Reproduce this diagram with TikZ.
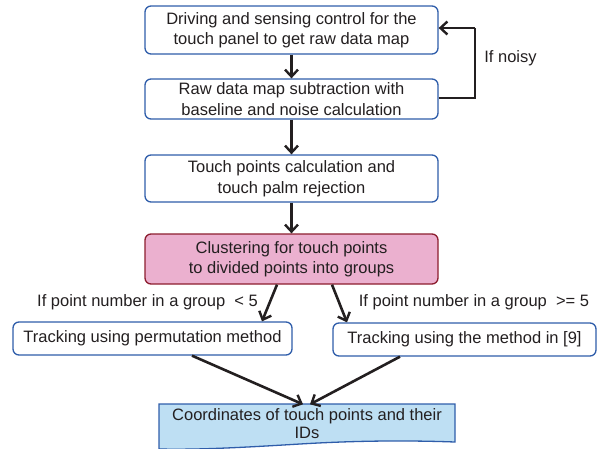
\documentclass[tikz,border=0pt]{standalone}
\usepackage{fontspec}
\setmainfont{Liberation Sans}
\usetikzlibrary{arrows.meta,calc}
\definecolor{boxblue}{HTML}{2F5DAA}
\definecolor{pinkfill}{HTML}{EBB0CF}
\definecolor{pinkdraw}{HTML}{8C1D2E}
\definecolor{docfill}{HTML}{BEDFF3}
\definecolor{txt}{HTML}{231F20}
\tikzset{
  flowbox/.style={draw=boxblue, line width=1.3pt, rounded corners=6pt, fill=white,
    align=center, inner sep=0pt, font=\fontsize{16.5}{20.5}\selectfont, text=txt},
  pinkbox/.style={flowbox, draw=pinkdraw, fill=pinkfill},
  conn/.style={line width=2.6pt, draw=txt, -{Straight Barb[length=7pt,width=13pt,line width=2.4pt]}},
  lbl/.style={font=\fontsize{16.5}{20}\selectfont, text=txt, inner sep=0pt},
}
\begin{document}
\begin{tikzpicture}[x=1pt,y=-1pt]
\useasboundingbox (0,0) rectangle (600,448);
\node[flowbox, minimum width=293pt, minimum height=48pt] (b1) at (291.5,30)
  {Driving and sensing control for the\\touch panel to get raw data map};
\node[flowbox, minimum width=293pt, minimum height=40pt] (b2) at (291.5,99)
  {Raw data map subtraction with\\baseline and noise calculation};
\node[flowbox, minimum width=293pt, minimum height=47pt] (b3) at (291.5,178.5)
  {Touch points calculation and\\touch palm rejection};
\node[pinkbox, minimum width=293pt, minimum height=50pt] (b4) at (291.5,259)
  {Clustering for touch points\\to divided points into groups};
\node[flowbox, minimum width=279pt, minimum height=33pt] (b5) at (152.5,338.5)
  {Tracking using permutation method};
\node[flowbox, minimum width=263pt, minimum height=33pt] (b6) at (464.5,339.5)
  {Tracking using the method in [9]};
% document shape
\begin{scope}
\clip (0,0) rectangle (600,448);
\path[fill=docfill, draw=boxblue, line width=1.3pt]
  (159,404) -- (455,404) -- (455,442)
  .. controls (400,440) and (350,441) .. (300,444)
  .. controls (250,447) and (200,450) .. (159,449) -- cycle;
\end{scope}
\node[align=center, inner sep=0pt, font=\fontsize{16.5}{18}\selectfont, text=txt,
  minimum width=296pt, minimum height=38pt] (b7) at (307,424)
  {Coordinates of touch points and their\\IDs};
% connectors
\draw[conn] (b1.south) -- (b2.north);
\draw[conn] (b2.south) -- (b3.north);
\draw[conn] (b3.south) -- (b4.north);
\coordinate (fbA) at (475,98);
\coordinate (fbB) at (475,28);
\draw[conn, -] (b2.east |- fbA) -- (fbA) -- (fbB);
\draw[conn] (fbB) -- (b1.east |- fbB);
\node[lbl] (noisy) at (510.5,58) {If noisy};
\draw[conn] ([xshift=-14.5pt]b4.south) -- ([xshift=109.5pt]b5.north);
\draw[conn] ([xshift=40.5pt]b4.south) -- ([xshift=-117.5pt]b6.north);
\node[lbl] (l5) at (147.5,302) {If point number in a group\ \ < 5};
\node[lbl] (r5) at (474,302) {If point number in a group\ \ >= 5};
\draw[conn] ([xshift=39.5pt]b5.south) -- ([xshift=-4pt,yshift=0.5pt]b7.north);
\draw[conn] ([xshift=-64.5pt]b6.south) -- ([xshift=3pt,yshift=0.5pt]b7.north);
\end{tikzpicture}
\end{document}
